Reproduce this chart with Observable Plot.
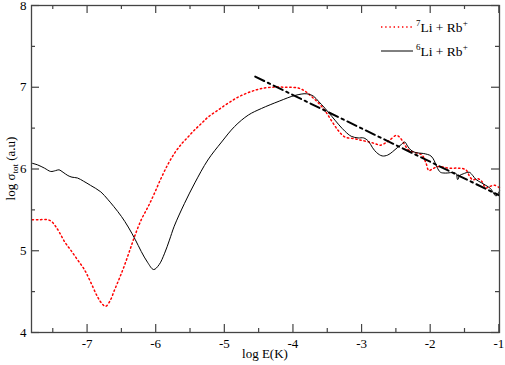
<!DOCTYPE html>
<html>
<head>
<meta charset="utf-8">
<script src="https://cdn.jsdelivr.net/npm/d3@7"></script>
<script src="https://cdn.jsdelivr.net/npm/@observablehq/plot@0.6"></script>
<style>
  html, body { margin: 0; padding: 0; background: #fff; }
  #wrap { position: relative; width: 505px; height: 365px; font-family: "Liberation Serif", "Times New Roman", serif; }
  #wrap svg, #wrap svg text, #wrap svg tspan { font-family: "Liberation Serif", "Times New Roman", serif !important; }
  #wrap svg { overflow: visible; }
  #legend { position: absolute; left: 0; top: 0; pointer-events: none; }
</style>
</head>
<body>
<div id="wrap"></div>
<script>
// ---- data ----
const li7X = [-7.80,-7.70,-7.58,-7.52,-7.46,-7.40,-7.32,-7.24,-7.14,-7.04,-6.95,-6.85,-6.78,-6.73,-6.67,-6.60,-6.53,-6.46,-6.38,-6.31,-6.21,-6.11,-6.02,-5.92,-5.82,-5.72,-5.62,-5.52,-5.43,-5.33,-5.23,-5.11,-4.99,-4.86,-4.75,-4.60,-4.48,-4.31,-4.10,-3.92,-3.82,-3.72,-3.62,-3.53,-3.43,-3.34,-3.24,-3.10,-3.00,-2.89,-2.80,-2.73,-2.65,-2.58,-2.50,-2.46,-2.41,-2.36,-2.31,-2.21,-2.12,-2.06,-2.02,-1.97,-1.88,-1.72,-1.58,-1.48,-1.42,-1.38,-1.30,-1.25,-1.19,-1.12,-1.06,-0.99];
const li7Y = [5.38,5.38,5.38,5.36,5.30,5.22,5.10,5.01,4.89,4.77,4.62,4.44,4.35,4.32,4.38,4.52,4.66,4.81,5.00,5.17,5.38,5.54,5.70,5.89,6.06,6.20,6.31,6.40,6.48,6.56,6.64,6.71,6.78,6.85,6.90,6.95,6.98,7.00,7.00,6.99,6.95,6.88,6.80,6.71,6.58,6.47,6.39,6.37,6.35,6.33,6.31,6.29,6.32,6.36,6.41,6.40,6.35,6.28,6.23,6.20,6.17,6.07,5.98,6.00,6.03,6.01,6.01,5.99,5.90,5.87,5.88,5.85,5.77,5.79,5.80,5.77];

const li6X = [-7.80,-7.72,-7.62,-7.53,-7.46,-7.41,-7.35,-7.28,-7.22,-7.14,-7.05,-6.95,-6.80,-6.70,-6.61,-6.50,-6.40,-6.30,-6.21,-6.12,-6.03,-5.95,-5.87,-5.80,-5.73,-5.58,-5.43,-5.24,-5.04,-4.85,-4.65,-4.46,-4.20,-3.97,-3.80,-3.70,-3.63,-3.53,-3.43,-3.33,-3.24,-3.15,-3.05,-2.97,-2.90,-2.84,-2.78,-2.70,-2.62,-2.55,-2.48,-2.42,-2.37,-2.33,-2.28,-2.21,-2.10,-1.99,-1.94,-1.90,-1.85,-1.78,-1.63,-1.60,-1.57,-1.52,-1.43,-1.38,-1.33,-1.25,-1.19,-1.12,-1.04,-0.99];
const li6Y = [6.07,6.05,6.01,5.97,5.98,5.99,5.96,5.92,5.90,5.89,5.85,5.80,5.72,5.63,5.54,5.42,5.29,5.14,4.99,4.86,4.77,4.83,4.97,5.13,5.30,5.58,5.83,6.11,6.33,6.52,6.66,6.74,6.83,6.90,6.92,6.89,6.83,6.74,6.64,6.54,6.46,6.40,6.38,6.38,6.34,6.26,6.20,6.16,6.17,6.21,6.26,6.30,6.33,6.28,6.23,6.20,6.19,6.16,6.10,6.02,5.96,5.95,5.95,5.87,5.92,5.94,5.96,5.92,5.87,5.83,5.80,5.76,5.67,5.73];

const fitX = [-4.55, -1.0];
const fitY = [7.13, 5.68];

const xMajor = [-7, -6, -5, -4, -3, -2, -1];
const xMinor = [-7.5, -6.5, -5.5, -4.5, -3.5, -2.5, -1.5];
const yMajor = [4, 5, 6, 7, 8];
const yMinor = [4.5, 5.5, 6.5, 7.5];

const legendLabels = [
  {iso: "7", text: "Li + Rb", charge: "+"},
  {iso: "6", text: "Li + Rb", charge: "+"}
];

// ---- chart ----
const W = 505, H = 365;
const mL = 31, mR = 6, mT = 5, mB = 33;
const innerW = W - mL - mR, innerH = H - mT - mB;
const majorLen = 8, minorLen = 4;
const axisColor = "#444";
const font = "'Liberation Serif', 'Times New Roman', serif";

const toRows = (xs, ys) => xs.map((x, i) => ({x, y: ys[i]}));
const li7 = toRows(li7X, li7Y);
const li6 = toRows(li6X, li6Y);
const fit = toRows(fitX, fitY);

const chart = Plot.plot({
  width: W, height: H,
  marginLeft: mL, marginRight: mR, marginTop: mT, marginBottom: mB,
  style: {fontFamily: font, fontSize: "13px", background: "#fff", color: "#000", overflow: "visible"},
  x: {domain: [-7.81, -0.99]},
  y: {domain: [4, 8]},
  marks: [
    Plot.line(li7, {x: "x", y: "y", stroke: "#ff0000", strokeWidth: 1.5, strokeDasharray: "1.4,2.8", curve: "catmull-rom"}),
    Plot.line(li6, {x: "x", y: "y", stroke: "#000", strokeWidth: 1, curve: "catmull-rom"}),
    Plot.line(fit, {x: "x", y: "y", stroke: "#000", strokeWidth: 2, strokeDasharray: "10,4,2.5,4"}),
    // inward ticks on all four sides
    Plot.tickX(xMajor, {x: d => d, insetTop: innerH - majorLen, stroke: axisColor, strokeWidth: 1.2}),
    Plot.tickX(xMinor, {x: d => d, insetTop: innerH - minorLen, stroke: axisColor, strokeWidth: 1.2}),
    Plot.tickX(xMajor, {x: d => d, insetBottom: innerH - majorLen, stroke: axisColor, strokeWidth: 1.2}),
    Plot.tickX(xMinor, {x: d => d, insetBottom: innerH - minorLen, stroke: axisColor, strokeWidth: 1.2}),
    Plot.tickY(yMajor, {y: d => d, insetRight: innerW - majorLen, stroke: axisColor, strokeWidth: 1.2}),
    Plot.tickY(yMinor, {y: d => d, insetRight: innerW - minorLen, stroke: axisColor, strokeWidth: 1.2}),
    Plot.tickY(yMajor, {y: d => d, insetLeft: innerW - majorLen, stroke: axisColor, strokeWidth: 1.2}),
    Plot.tickY(yMinor, {y: d => d, insetLeft: innerW - minorLen, stroke: axisColor, strokeWidth: 1.2}),
    Plot.axisX(xMajor, {tickSize: 0, tickPadding: 6, tickFormat: d => String(d), label: null, fontSize: 13}),
    Plot.axisY(yMajor, {tickSize: 0, tickPadding: 5, tickFormat: d => String(d), label: null, fontSize: 13}),
    Plot.frame({stroke: axisColor, strokeWidth: 1.3})
  ]
});

const wrap = document.getElementById("wrap");
wrap.appendChild(chart);

// axis titles
const svg = d3.select(chart);
svg.append("text")
  .attr("x", mL + innerW / 2).attr("y", 358)
  .attr("text-anchor", "middle").attr("font-size", 13).attr("fill", "#000")
  .text("log E(K)");
const yl = svg.append("text")
  .attr("transform", `translate(15,${mT + innerH / 2}) rotate(-90)`)
  .attr("text-anchor", "middle").attr("font-size", 13).attr("fill", "#000");
yl.append("tspan").text("log σ");
yl.append("tspan").attr("font-size", 9).attr("dy", 3).text("tot");
yl.append("tspan").attr("dy", -3).text(" (a.u)");

// legend (overlay)
const leg = d3.select(wrap).append("svg").attr("id", "legend").attr("width", W).attr("height", H);
const legStyles = [
  {stroke: "#ff0000", width: 1.5, dash: "1.4,2.8"},
  {stroke: "#000", width: 1, dash: null}
];
legendLabels.forEach((l, i) => {
  const yy = 27 + i * 24;
  leg.append("line").attr("x1", 381).attr("x2", 413).attr("y1", yy).attr("y2", yy)
    .attr("stroke", legStyles[i].stroke).attr("stroke-width", legStyles[i].width)
    .attr("stroke-dasharray", legStyles[i].dash);
  const t = leg.append("text").attr("x", 416).attr("y", yy + 5)
    .attr("font-size", 13.5).attr("fill", "#000");
  t.append("tspan").attr("font-size", 9).attr("dy", -6).text(l.iso);
  t.append("tspan").attr("dy", 6).text(l.text);
  t.append("tspan").attr("font-size", 9).attr("dy", -6).text(l.charge);
});
</script>
</body>
</html>
